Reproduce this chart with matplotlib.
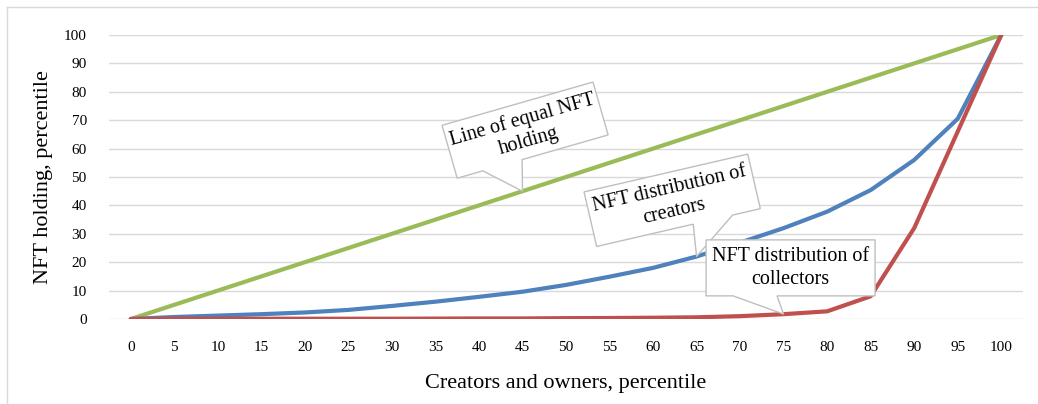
import numpy as np
import matplotlib.pyplot as plt
from matplotlib.patches import Polygon
from matplotlib.lines import Line2D
from matplotlib.transforms import IdentityTransform

plt.rcParams['font.family'] = ['Liberation Serif', 'DejaVu Serif']

percentiles = [0, 5, 10, 15, 20, 25, 30, 35, 40, 45, 50, 55, 60, 65, 70, 75, 80, 85, 90, 95, 100]
equal_line = [0, 5, 10, 15, 20, 25, 30, 35, 40, 45, 50, 55, 60, 65, 70, 75, 80, 85, 90, 95, 100]
creators = [0, 0.7, 1.2, 1.7, 2.3, 3.2, 4.6, 6.1, 7.8, 9.6, 12.0, 14.9, 18.0, 22.0, 26.9, 32.0, 37.8, 45.4, 56.0, 70.5, 100]
collectors = [0, 0.1, 0.1, 0.1, 0.1, 0.1, 0.1, 0.15, 0.2, 0.2, 0.3, 0.35, 0.45, 0.6, 1.0, 1.7, 2.7, 8.0, 32.0, 66.0, 100]

W, H = 1038, 404
fig = plt.figure(figsize=(W / 100, H / 100), dpi=100)
ax = fig.add_axes([109 / W, 85 / H, (1023 - 109) / W, (319 - 35) / H])

x = np.arange(len(percentiles))
ax.plot(x, equal_line, color="#9BBB59", lw=3, solid_capstyle="round", zorder=3)
ax.plot(x, creators, color="#4F81BD", lw=3, solid_capstyle="round", zorder=3)
ax.plot(x, collectors, color="#C0504D", lw=3, solid_capstyle="round", zorder=3)

ax.set_xlim(-0.5, len(percentiles) - 0.5)
ax.set_ylim(0, 100)
ax.set_yticks(range(0, 101, 10))
ax.set_xticks(x)
ax.set_xticklabels([str(p) for p in percentiles])
ax.grid(axis="y", color="#D9D9D9", lw=1)
ax.set_axisbelow(True)
for s in ax.spines.values():
    s.set_visible(False)
ax.tick_params(length=0, labelsize=11, colors="#000000")
ax.tick_params(axis="x", pad=16)
ax.tick_params(axis="y", pad=16)
ax.set_xlabel("Creators and owners, percentile", fontsize=16, labelpad=14)
ax.set_ylabel("NFT holding, percentile", fontsize=16, labelpad=8)


def callout(text, center, tip, w, h, angle, base):
    # box geometry in pixels, anchored on data coordinates
    cx, cy = ax.transData.transform(center)
    tx, ty = ax.transData.transform(tip)
    th = np.deg2rad(angle)
    R = np.array([[np.cos(th), -np.sin(th)], [np.sin(th), np.cos(th)]])
    local = [(-w / 2, h / 2), (w / 2, h / 2), (w / 2, -h / 2),
             (-w / 2 + base[1] * w, -h / 2), None, (-w / 2 + base[0] * w, -h / 2),
             (-w / 2, -h / 2)]
    pts = []
    for p in local:
        if p is None:
            pts.append((tx, ty))
        else:
            q = R @ np.array(p)
            pts.append((cx + q[0], cy + q[1]))
    poly = Polygon(pts, closed=True, facecolor="white", edgecolor="#BFBFBF", lw=1,
                   transform=IdentityTransform(), zorder=5)
    ax.add_patch(poly)
    ax.text(center[0], center[1], text, ha="center", va="center", fontsize=14.5,
            rotation=angle, rotation_mode="anchor", linespacing=1.25, zorder=6,
            multialignment="center")


fig.canvas.draw()
callout("Line of equal NFT\nholding", (9.06, 66.5), (9, 45), 157, 55, 16, (0.17, 0.43))
callout("NFT distribution of\ncreators", (12.44, 41.8), (13, 22.0), 168, 56, 13, (0.59, 0.83))
callout("NFT distribution of\ncollectors", (15.16, 18.0), (15, 1.7), 169, 56, 0, (0.16, 0.42))

# outer chart frame
fig.add_artist(Line2D([7 / W, 7 / W], [0, 1 - 7 / H], color="#D9D9D9", lw=1))
fig.add_artist(Line2D([7 / W, 1], [1 - 7 / H, 1 - 7 / H], color="#D9D9D9", lw=1))

fig.savefig("out.png", dpi=100)
